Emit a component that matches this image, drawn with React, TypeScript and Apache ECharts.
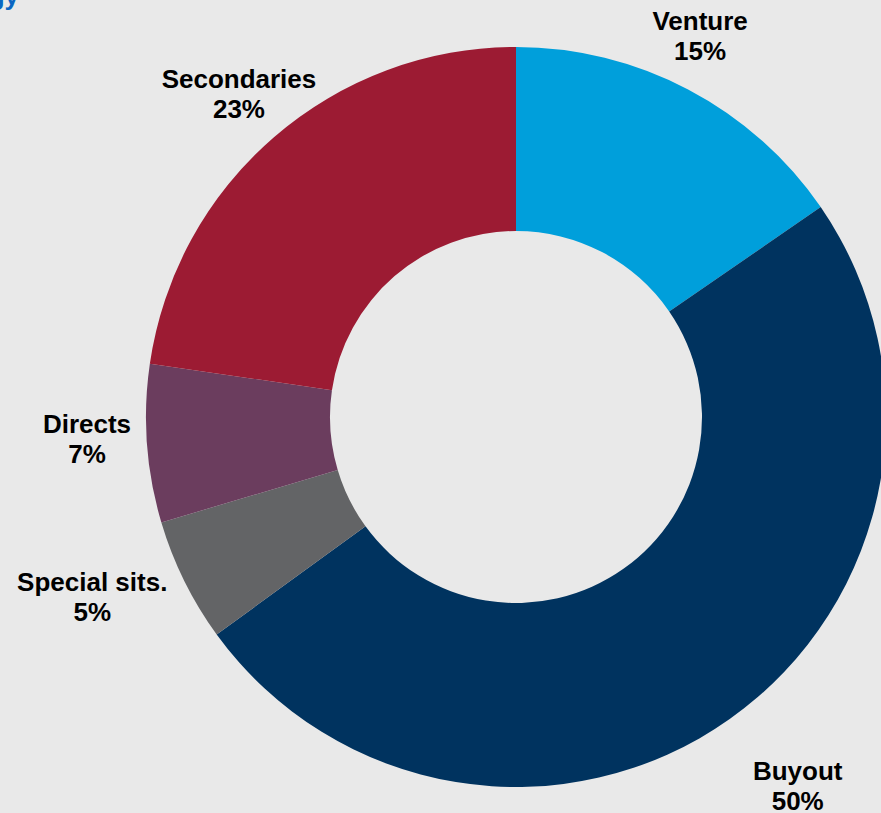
import React, { useEffect, useRef } from "react";
import * as echarts from "echarts";

const categories = ["Venture", "Buyout", "Special sits.", "Directs", "Secondaries"];
const shares = [15.4, 49.6, 5.4, 6.9, 22.7];
const colors = ["#009fdb", "#00335f", "#636466", "#6b3d5e", "#9c1b33"];
// label nudge (px) from the outer edge at each slice's mid-angle
const labelNudge: [number, number][] = [
  [12, -53],
  [68, 67],
  [-92, 16],
  [-60, -5],
  [-35, -43],
];

export default function App() {
  const ref = useRef<HTMLDivElement>(null);
  useEffect(() => {
    if (!ref.current) return;
    const chart = echarts.init(ref.current, undefined, { renderer: "svg" });
    const cx = 516;
    const cy = 417;
    const outerR = 370;
    const total = shares.reduce((a, b) => a + b, 0);
    const cum: number[] = [];
    let acc = 0;
    shares.forEach((v) => {
      cum.push(acc + v / 2);
      acc += v;
    });
    chart.setOption({
      animation: false,
      backgroundColor: "#e9e9e9",
      graphic: [
        {
          type: "text",
          x: 19,
          y: -4,
          style: {
            text: "By strategy",
            font: "bold 26px Arial, 'Liberation Sans', sans-serif",
            fill: "#0a66c2",
            align: "right",
            verticalAlign: "middle",
          },
        },
      ],
      series: [
        {
          type: "pie",
          center: [cx, cy],
          radius: [186, outerR],
          startAngle: 90,
          clockwise: true,
          percentPrecision: 0,
          avoidLabelOverlap: false,
          itemStyle: { borderWidth: 0 },
          label: {
            show: true,
            position: "outside",
            formatter: "{b}\n{d}%",
            fontFamily: "Arial, 'Liberation Sans', sans-serif",
            fontWeight: "bold",
            fontSize: 26,
            lineHeight: 30,
            color: "#000",
            align: "center",
          },
          labelLine: { show: false },
          labelLayout: (params: any) => {
            const i = params.dataIndex;
            const ang = (cum[i] / total) * 2 * Math.PI;
            const [dx, dy] = labelNudge[i];
            return {
              x: cx + outerR * Math.sin(ang) + dx,
              y: cy - outerR * Math.cos(ang) + dy,
              align: "center",
              verticalAlign: "middle",
            };
          },
          emphasis: { disabled: true },
          data: categories.map((name, i) => ({
            name,
            value: shares[i],
            itemStyle: { color: colors[i] },
          })),
        },
      ],
    });
    return () => chart.dispose();
  }, []);
  return (
    <div
      ref={ref}
      style={{ position: "fixed", left: 0, top: 0, width: 881, height: 813 }}
    />
  );
}
